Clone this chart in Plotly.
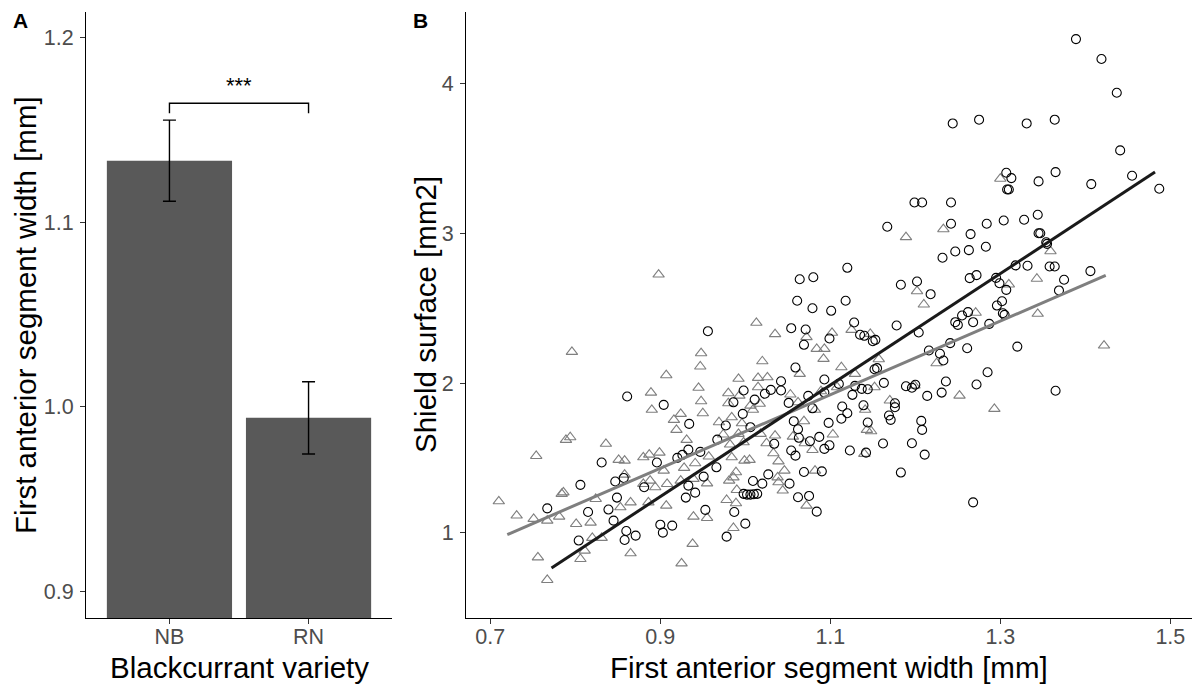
import plotly.graph_objects as go

# ---------------- Panel A data ----------------
varieties = ["NB", "RN"]
mean_width = [1.1333, 0.9939]
se_width = [0.0220, 0.0196]
bracket_top = 1.1644
bracket_tip = 1.1590
signif_label = "***"

# ---------------- Panel B data ----------------
nb_x = [0.956, 0.861, 0.904, 0.934, 0.967, 0.933, 0.947, 0.926, 0.920, 0.896, 0.831, 0.966, 0.857, 0.847,
        0.806, 0.881, 0.933, 0.951, 0.849, 0.941, 0.930, 0.767, 0.839, 0.815, 0.953, 0.845, 0.900, 0.914,
        0.903, 0.860, 0.871, 0.858, 0.804,
        1.199, 1.208, 1.242, 1.167, 1.242, 1.247, 1.232, 1.120, 1.064, 1.080, 1.061, 1.079, 1.101, 1.118,
        1.183, 1.202, 1.218, 1.054, 1.071, 1.069, 1.099, 1.128, 1.135, 1.140, 1.150, 1.153, 1.178, 1.204,
        1.247, 1.250, 1.241, 1.216, 1.229, 1.233, 1.059, 1.152, 1.155,
        1.441, 1.455, 1.487, 1.407, 1.365, 1.345, 1.307, 1.313, 1.308, 1.310, 1.265, 1.284, 1.304, 1.328,
        1.344, 1.345, 1.347, 1.263, 1.283, 1.354, 1.355, 1.318, 1.332, 1.358, 1.364, 1.406, 1.264, 1.272,
        1.295, 1.299, 1.307, 1.375, 1.369, 1.302, 1.296, 1.262, 1.255, 1.303, 1.305, 1.268, 1.287, 1.261,
        1.320, 1.285,
        1.042, 1.093, 1.163, 1.236, 0.998, 1.023, 1.030, 1.042, 1.074, 1.093, 1.110, 1.129, 1.137, 1.144,
        1.189, 1.196, 1.200, 1.214, 1.231, 0.986, 1.011, 1.051, 1.126, 1.079, 1.114, 1.120, 1.113, 1.139,
        1.176, 1.176, 1.169, 1.171, 0.997, 0.977, 1.006, 1.057, 1.062, 1.063, 1.076, 1.087, 1.098, 1.144,
        1.207, 1.208, 1.034, 1.054, 1.059, 1.093, 1.099, 1.123, 1.142, 1.162, 1.196, 1.211, 1.069, 1.090,
        1.183, 1.027, 1.009, 1.020, 1.052, 0.998, 1.002, 1.006, 1.010, 1.014, 1.062, 1.075, 0.987, 1.084,
        1.000, 0.978,
        1.272, 1.365, 1.268,
        1.389, 1.419, 1.437, 1.244, 1.275, 1.331, 1.364]
nb_y = [2.347, 1.911, 1.855, 1.728, 1.623, 1.556, 1.541, 1.521, 1.501, 1.470, 1.470, 1.438, 1.367, 1.343,
        1.321, 1.305, 1.316, 1.376, 1.236, 1.269, 1.236, 1.164, 1.156, 1.140, 1.154, 1.082, 1.055, 1.049,
        1.002, 1.013, 0.982, 0.953, 0.949,
        3.206, 3.206, 3.206, 3.044, 3.064, 2.879, 2.837, 2.770, 2.694, 2.707, 2.550, 2.500, 2.483, 2.550,
        2.657, 2.679, 2.594, 2.367, 2.358, 2.256, 2.298, 2.405, 2.323, 2.316, 2.280, 2.289, 2.385, 2.338,
        2.407, 2.389, 2.267, 2.218, 2.196, 2.151, 2.104, 2.093, 2.100,
        3.554, 3.385, 3.298, 3.329, 3.409, 3.347, 3.405, 3.369, 3.293, 3.293, 2.995, 3.064, 3.086, 3.091,
        3.124, 3.001, 3.001, 2.888, 2.911, 2.941, 2.930, 2.786, 2.784, 2.779, 2.779, 2.748, 2.701, 2.721,
        2.703, 2.667, 2.623, 2.690, 2.619, 2.547, 2.518, 2.474, 2.452, 2.467, 2.456, 2.407, 2.396, 2.233,
        2.244, 2.073,
        2.013, 2.024, 2.002, 2.011, 1.951, 1.929, 1.955, 1.951, 1.915, 1.937, 1.995, 1.982, 1.962, 1.959,
        1.979, 1.969, 1.989, 1.915, 1.937, 1.872, 1.890, 1.868, 1.922, 1.832, 1.844, 1.799, 1.762, 1.852,
        1.866, 1.839, 1.784, 1.755, 1.795, 1.717, 1.706, 1.746, 1.692, 1.635, 1.612, 1.641, 1.735, 1.737,
        1.748, 1.688, 1.595, 1.550, 1.516, 1.561, 1.585, 1.550, 1.536, 1.597, 1.599, 1.523, 1.407, 1.411,
        1.403, 1.391, 1.347, 1.329, 1.329, 1.261, 1.256, 1.256, 1.258, 1.261, 1.238, 1.247, 1.140, 1.142,
        1.062, 0.975,
        1.991, 1.949, 1.204,
        4.297, 4.164, 3.939, 3.734, 3.759, 3.734, 3.759]

rn_x = [0.898, 0.796, 0.948, 0.947, 0.907,
        0.889, 0.945, 0.948, 0.950, 0.890, 0.924, 0.916, 0.919, 0.969, 0.931, 0.789, 0.794, 0.836, 0.754,
        0.851, 0.858, 0.880, 0.887, 0.899, 0.928, 0.941, 0.957, 0.904, 0.858, 0.880, 0.888, 0.894, 0.908,
        0.924, 0.939, 0.955, 0.784, 0.786, 0.710, 0.824, 0.865, 0.853, 0.886, 0.907, 0.731, 0.751, 0.767,
        0.781, 0.801, 0.818, 0.939, 0.955, 0.820, 0.831, 0.811, 0.806, 0.756, 0.865, 0.938, 0.925, 0.767,
        1.189, 1.233, 1.202, 1.210, 1.013, 1.035, 1.072, 1.102, 1.125, 1.147, 1.084, 1.093, 1.092, 1.020,
        1.157, 1.113, 1.064, 1.225, 1.129,
        1.300, 1.359, 1.310, 1.343, 1.271, 1.344, 1.422,
        0.992, 1.015, 1.026, 0.980, 0.993, 1.015, 1.017, 1.006, 1.009, 0.980, 1.053, 1.062, 1.082, 1.089,
        1.108, 1.152, 1.170, 1.141, 1.199, 1.252, 0.984, 0.996, 1.069, 1.143, 1.148, 0.974, 0.992, 1.018,
        1.035, 1.056, 1.103, 0.982, 0.998, 1.025, 1.070, 0.984, 0.999, 1.005, 1.033, 1.039, 1.079, 1.140,
        0.989, 0.986, 0.981, 1.046, 1.038, 1.039, 1.082, 0.990, 1.044, 0.978, 0.989, 1.072, 0.986,
        1.293]
rn_y = [2.725, 2.209, 2.200, 2.111, 2.053,
        1.937, 1.969, 1.879, 1.799, 1.822, 1.795, 1.755, 1.688, 1.739, 1.621, 1.621, 1.639, 1.595, 1.514,
        1.488, 1.483, 1.505, 1.523, 1.536, 1.434, 1.465, 1.510, 1.416, 1.389, 1.327, 1.349, 1.305, 1.327,
        1.349, 1.361, 1.331, 1.261, 1.271, 1.211, 1.227, 1.204, 1.171, 1.204, 1.182, 1.116, 1.094, 1.082,
        1.109, 1.060, 1.069, 1.109, 1.100, 0.967, 0.967, 0.882, 0.826, 0.837, 0.864, 0.927, 0.797, 0.686,
        2.975, 3.028, 2.614, 2.525, 2.403, 2.327, 2.307, 2.336, 2.356, 2.329, 2.229, 2.229, 2.162, 2.146,
        2.160, 2.106, 2.062, 2.133, 2.062,
        3.365, 2.881, 2.659, 2.697, 2.470, 2.463, 2.251,
        2.029, 2.035, 2.039, 1.933, 1.917, 1.973, 1.862, 1.850, 1.822, 1.866, 1.924, 1.872, 1.822, 1.946,
        1.973, 1.973, 1.884, 1.822, 1.984, 1.917, 1.772, 1.732, 1.746, 1.688, 1.679, 1.657, 1.661, 1.661,
        1.650, 1.643, 1.657, 1.590, 1.605, 1.599, 1.599, 1.505, 1.483, 1.488, 1.532, 1.478, 1.554, 1.528,
        1.405, 1.371, 1.349, 1.416, 1.371, 1.338, 1.416, 1.287, 1.283, 1.220, 1.198, 1.182, 1.033,
        1.828]

# linear fits (endpoints)
fit_nb_x = [0.772, 1.482]
fit_nb_y = [0.766, 3.409]
fit_rn_x = [0.720, 1.424]
fit_rn_y = [0.989, 2.719]

a_yticks = [0.9, 1.0, 1.1, 1.2]
b_xticks = [0.7, 0.9, 1.1, 1.3, 1.5]
b_yticks = [1, 2, 3, 4]

W, H = 1197, 687
FONT = "Liberation Sans, Arial, Helvetica, sans-serif"
TICKFONT = dict(family=FONT, size=21.5, color="#4d4d4d")
TITLEFONT = dict(family=FONT, size=29.5, color="black")

fig = go.Figure()

# Panel A
fig.add_trace(go.Bar(
    x=varieties, y=mean_width, width=0.9,
    marker=dict(color="#595959", line=dict(width=0)),
    error_y=dict(type="data", array=se_width, color="black", thickness=1.4, width=6.5),
    xaxis="x", yaxis="y", hoverinfo="skip"))
fig.add_trace(go.Scatter(
    x=[varieties[0], varieties[0], varieties[1], varieties[1]],
    y=[bracket_tip, bracket_top, bracket_top, bracket_tip],
    mode="lines", line=dict(color="black", width=1.4),
    xaxis="x", yaxis="y", hoverinfo="skip"))

# Panel B
fig.add_trace(go.Scatter(
    x=rn_x, y=rn_y, mode="markers",
    marker=dict(symbol="triangle-up-open", size=10, color="#7f7f7f", line=dict(width=1.1, color="#7f7f7f")),
    xaxis="x2", yaxis="y2", name="RN"))
fig.add_trace(go.Scatter(
    x=nb_x, y=nb_y, mode="markers",
    marker=dict(symbol="circle-open", size=9, color="black", line=dict(width=1.1, color="black")),
    xaxis="x2", yaxis="y2", name="NB"))
fig.add_trace(go.Scatter(
    x=fit_rn_x, y=fit_rn_y, mode="lines", line=dict(color="#7f7f7f", width=3),
    xaxis="x2", yaxis="y2", hoverinfo="skip"))
fig.add_trace(go.Scatter(
    x=fit_nb_x, y=fit_nb_y, mode="lines", line=dict(color="#1a1a1a", width=3),
    xaxis="x2", yaxis="y2", hoverinfo="skip"))

axis_common = dict(showline=True, linecolor="black", linewidth=1.2, ticks="outside", ticklen=5,
                   tickwidth=1.1, tickcolor="#333333", tickfont=TICKFONT, showgrid=False, zeroline=False)
x_extra = dict(ticklabelstandoff=-6)
y_extra = dict(ticklabelstandoff=2)

ydom = [1 - 618 / H, 1 - 12 / H]
fig.update_layout(
    width=W, height=H, margin=dict(l=0, r=0, t=0, b=0),
    paper_bgcolor="white", plot_bgcolor="white", showlegend=False,
    xaxis=dict(domain=[86 / W, 392 / W], type="category", range=[-0.6, 1.6], anchor="y",
               **axis_common, **x_extra),
    yaxis=dict(domain=ydom, range=[0.8854, 1.2139], tickvals=a_yticks, tickformat=".1f", anchor="x",
               **axis_common, **y_extra),
    xaxis2=dict(domain=[466 / W, 1192 / W], range=[0.6714, 1.5255], tickvals=b_xticks, tickformat=".1f",
                anchor="y2", **axis_common, **x_extra),
    yaxis2=dict(domain=ydom, range=[0.432, 4.478], tickvals=b_yticks, anchor="x2", **axis_common, **y_extra),
    annotations=[
        dict(text="<b>A</b>", x=11 / W, y=1 - 21 / H, xref="paper", yref="paper", xanchor="left",
             yanchor="middle", showarrow=False, font=dict(family=FONT, size=21, color="black")),
        dict(text="<b>B</b>", x=411 / W, y=1 - 21 / H, xref="paper", yref="paper", xanchor="left",
             yanchor="middle", showarrow=False, font=dict(family=FONT, size=21, color="black")),
        dict(text=signif_label, x=0.5, y=1.174, xref="x", yref="y", xanchor="center", yanchor="middle",
             showarrow=False, font=dict(family=FONT, size=22, color="black")),
        dict(text="Blackcurrant variety", x=239 / W, y=1 - 667 / H, xref="paper", yref="paper",
             xanchor="center", yanchor="middle", showarrow=False, font=TITLEFONT),
        dict(text="First anterior segment width [mm]", x=829 / W, y=1 - 667 / H, xref="paper", yref="paper",
             xanchor="center", yanchor="middle", showarrow=False, font=TITLEFONT),
        dict(text="First anterior segment width [mm]", x=25 / W, y=1 - 315 / H, xref="paper", yref="paper",
             xanchor="center", yanchor="middle", textangle=-90, showarrow=False, font=TITLEFONT),
        dict(text="Shield surface [mm2]", x=425 / W, y=1 - 315 / H, xref="paper", yref="paper",
             xanchor="center", yanchor="middle", textangle=-90, showarrow=False, font=TITLEFONT),
    ],
)

fig.write_html("out.html", config={"displayModeBar": False},
               post_script="document.body.style.margin='0';document.body.style.overflow='hidden';")
